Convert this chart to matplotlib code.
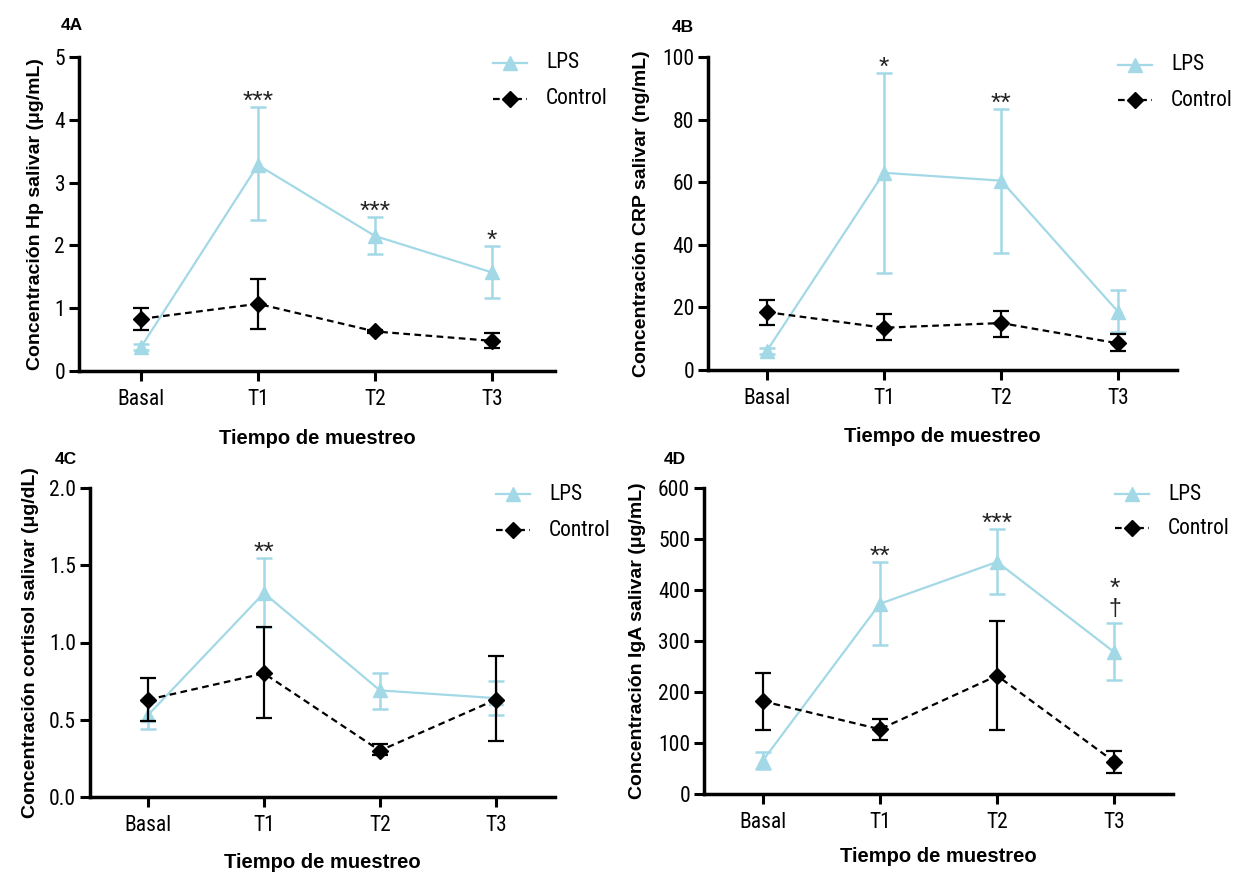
import matplotlib
matplotlib.use("Agg")
import matplotlib.pyplot as plt
from matplotlib import font_manager
import numpy as np

categories = ["Basal", "T1", "T2", "T3"]

# Panel 4A: Hp
a_lps = [0.38, 3.28, 2.15, 1.57]
a_lps_hi = [0.43, 4.20, 2.45, 1.99]
a_lps_lo = [0.33, 2.40, 1.87, 1.17]
a_ctl = [0.83, 1.07, 0.63, 0.48]
a_ctl_hi = [1.01, 1.47, 0.66, 0.60]
a_ctl_lo = [0.65, 0.67, 0.60, 0.36]
a_stars = ["", "***", "***", "*"]

# Panel 4B: CRP
b_lps = [6.0, 63.0, 60.5, 18.5]
b_lps_hi = [7.0, 95.0, 83.5, 25.5]
b_lps_lo = [5.0, 31.0, 37.5, 12.0]
b_ctl = [18.5, 13.5, 15.0, 8.5]
b_ctl_hi = [22.5, 18.0, 19.0, 11.5]
b_ctl_lo = [14.5, 9.5, 10.5, 6.0]
b_stars = ["", "*", "**", ""]

# Panel 4C: cortisol
c_lps = [0.53, 1.32, 0.69, 0.64]
c_lps_hi = [0.62, 1.55, 0.80, 0.75]
c_lps_lo = [0.44, 1.10, 0.57, 0.53]
c_ctl = [0.63, 0.80, 0.30, 0.63]
c_ctl_hi = [0.77, 1.10, 0.34, 0.91]
c_ctl_lo = [0.49, 0.51, 0.27, 0.36]
c_stars = ["", "**", "", ""]

# Panel 4D: IgA
d_lps = [65, 373, 455, 278]
d_lps_hi = [82, 455, 520, 335]
d_lps_lo = [50, 293, 393, 223]
d_ctl = [182, 127, 232, 63]
d_ctl_hi = [238, 148, 340, 85]
d_ctl_lo = [125, 106, 125, 42]
d_stars = ["", "**", "***", "*"]
d_dagger = ["", "", "", "\u2020"]

LPS_COLOR = "#a3d9e6"

# pick a condensed sans font if one is installed
_names = {f.name for f in font_manager.fontManager.ttflist}
_narrow = None
for cand in ["Liberation Sans Narrow", "Arial Narrow", "Roboto Condensed",
             "Noto Sans Condensed", "Open Sans Condensed", "DejaVu Sans Condensed"]:
    if cand in _names:
        _narrow = cand
        break
NARROW_PROPS = dict(family=["Liberation Sans", "DejaVu Sans"])
NSCALE = 0.9
if _narrow is not None:
    NARROW_PROPS = dict(family=[_narrow, "DejaVu Sans"])
    NSCALE = 1.0
else:
    for f in font_manager.fontManager.ttflist:
        st = f.stretch if isinstance(f.stretch, str) else str(f.stretch)
        if f.name in ("Noto Sans", "DejaVu Sans", "Roboto", "Open Sans") and \
                ("condensed" in st.lower() and "semi" not in st.lower()) and f.weight in (400, "normal", "regular"):
            NARROW_PROPS = dict(family=[f.name], stretch="condensed")
            NSCALE = 0.95
            break

BOLD = ["Liberation Sans", "DejaVu Sans"]
TICK_FS = 15.5 * NSCALE
LEG_FS = 15.5 * NSCALE

fig = plt.figure(figsize=(12.35, 8.75), dpi=100)
fig.patch.set_facecolor("white")

W, H = 1235.0, 875.0


def px_pos(left, right, top, bottom):
    return [left / W, 1 - bottom / H, (right - left) / W, (bottom - top) / H]


panels = [
    dict(pos=px_pos(79, 555, 57, 371), xlim=(-0.53, 3.54), ylim=(0, 5),
         yticks=[0, 1, 2, 3, 4, 5], ytl=["0", "1", "2", "3", "4", "5"],
         lps=a_lps, lhi=a_lps_hi, llo=a_lps_lo, ctl=a_ctl, chi=a_ctl_hi, clo=a_ctl_lo,
         stars=a_stars, dag=None, ylabel="Concentración Hp salivar (μg/mL)",
         tag="4A", tagxy=(72, 26), ylab_x=36, xlab_y=438, leg=(493, 63, 99)),
    dict(pos=px_pos(708, 1177, 57, 370), xlim=(-0.5, 3.5), ylim=(0, 100),
         yticks=[0, 20, 40, 60, 80, 100], ytl=["0", "20", "40", "60", "80", "100"],
         lps=b_lps, lhi=b_lps_hi, llo=b_lps_lo, ctl=b_ctl, chi=b_ctl_hi, clo=b_ctl_lo,
         stars=b_stars, dag=None, ylabel="Concentración CRP salivar (ng/mL)",
         tag="4B", tagxy=(683, 27), ylab_x=642, xlab_y=437, leg=(1118, 65, 100)),
    dict(pos=px_pos(90, 555, 488, 797), xlim=(-0.5, 3.51), ylim=(0, 2.0),
         yticks=[0, 0.5, 1.0, 1.5, 2.0], ytl=["0.0", "0.5", "1.0", "1.5", "2.0"],
         lps=c_lps, lhi=c_lps_hi, llo=c_lps_lo, ctl=c_ctl, chi=c_ctl_hi, clo=c_ctl_lo,
         stars=c_stars, dag=None, ylabel="Concentración cortisol salivar (μg/dL)",
         tag="4C", tagxy=(66, 460), ylab_x=31, xlab_y=862, leg=(496, 494, 530)),
    dict(pos=px_pos(704, 1173, 488, 794), xlim=(-0.5, 3.5), ylim=(0, 600),
         yticks=[0, 100, 200, 300, 400, 500, 600], ytl=["0", "100", "200", "300", "400", "500", "600"],
         lps=d_lps, lhi=d_lps_hi, llo=d_lps_lo, ctl=d_ctl, chi=d_ctl_hi, clo=d_ctl_lo,
         stars=d_stars, dag=d_dagger, ylabel="Concentración IgA salivar (μg/mL)",
         tag="4D", tagxy=(675, 459), ylab_x=638, xlab_y=857, leg=(1115, 494, 528)),
]

for p in panels:
    ax = fig.add_axes(p["pos"])
    x = np.arange(len(categories))
    lps = np.array(p["lps"]); ctl = np.array(p["ctl"])
    lerr = [lps - np.array(p["llo"]), np.array(p["lhi"]) - lps]
    cerr = [ctl - np.array(p["clo"]), np.array(p["chi"]) - ctl]
    ax.errorbar(x, lps, yerr=lerr, color=LPS_COLOR, ecolor=LPS_COLOR, lw=1.6,
                elinewidth=1.8, capsize=6, capthick=1.8, marker="^", ms=10,
                mec=LPS_COLOR, mfc=LPS_COLOR, zorder=2, clip_on=False)
    ax.errorbar(x, ctl, yerr=cerr, color="black", ecolor="black", lw=1.6, ls=(0, (3, 2)),
                elinewidth=1.6, capsize=6, capthick=1.6, marker="D", ms=8.5,
                mec="black", mfc="black", zorder=3, clip_on=False)
    for i, s in enumerate(p["stars"]):
        if s:
            top = max(p["lhi"][i], p["chi"][i])
            has_dag = p["dag"] is not None and p["dag"][i]
            dy = 20 if has_dag else -1.5
            ax.annotate(s, xy=(x[i], top), xytext=(0, dy), textcoords="offset points",
                        ha="center", va="baseline", fontsize=19, family=BOLD, color="#222222")
    if p["dag"] is not None:
        for i, s in enumerate(p["dag"]):
            if s:
                top = p["lhi"][i]
                ax.annotate(s, xy=(x[i], top), xytext=(0, 5), textcoords="offset points",
                            ha="center", va="baseline", fontsize=16.5, family=BOLD, color="#222222")
    ax.set_xlim(*p["xlim"])
    ax.set_ylim(*p["ylim"])
    ax.set_xticks(x)
    ax.set_xticklabels(categories, fontsize=TICK_FS, **NARROW_PROPS)
    ax.set_yticks(p["yticks"])
    ax.set_yticklabels(p["ytl"], fontsize=TICK_FS, **NARROW_PROPS)
    for side in ["top", "right"]:
        ax.spines[side].set_visible(False)
    for side in ["left", "bottom"]:
        ax.spines[side].set_linewidth(2.5)
    ax.tick_params(axis="both", direction="out", length=7, width=2.2, pad=3)
    ax.tick_params(axis="x", pad=6)
    # labels
    fig.text(p["ylab_x"] / W, (p["pos"][1] + p["pos"][3] / 2), p["ylabel"], rotation=90,
             ha="center", va="center", fontsize=14, fontweight="bold", family=BOLD)
    fig.text(p["pos"][0] + p["pos"][2] * 0.5, 1 - p["xlab_y"] / H, "Tiempo de muestreo",
             ha="center", va="center", fontsize=14.5, fontweight="bold", family=BOLD)
    fig.text(p["tagxy"][0] / W, 1 - p["tagxy"][1] / H, p["tag"], ha="center", va="center",
             fontsize=12.5, fontweight="bold", family=BOLD)
    # legend (manual, positioned in figure pixels)
    lx, ly1, ly2 = p["leg"]
    fig.add_artist(plt.Line2D([lx / W, (lx + 34) / W], [1 - ly1 / H] * 2, color=LPS_COLOR, lw=1.6))
    fig.add_artist(plt.Line2D([(lx + 17) / W], [1 - ly1 / H], color=LPS_COLOR, marker="^", ms=10, lw=0))
    fig.add_artist(plt.Line2D([lx / W, (lx + 34) / W], [1 - ly2 / H] * 2, color="black", lw=1.6,
                              ls=(0, (3, 2))))
    fig.add_artist(plt.Line2D([(lx + 17) / W], [1 - ly2 / H], color="black", marker="D", ms=8.5, lw=0))
    fig.text((lx + 53) / W, 1 - ly1 / H, "LPS", ha="left", va="center", fontsize=LEG_FS, **NARROW_PROPS)
    fig.text((lx + 53) / W, 1 - ly2 / H, "Control", ha="left", va="center", fontsize=LEG_FS, **NARROW_PROPS)

fig.savefig("out.png", dpi=100, facecolor="white")
